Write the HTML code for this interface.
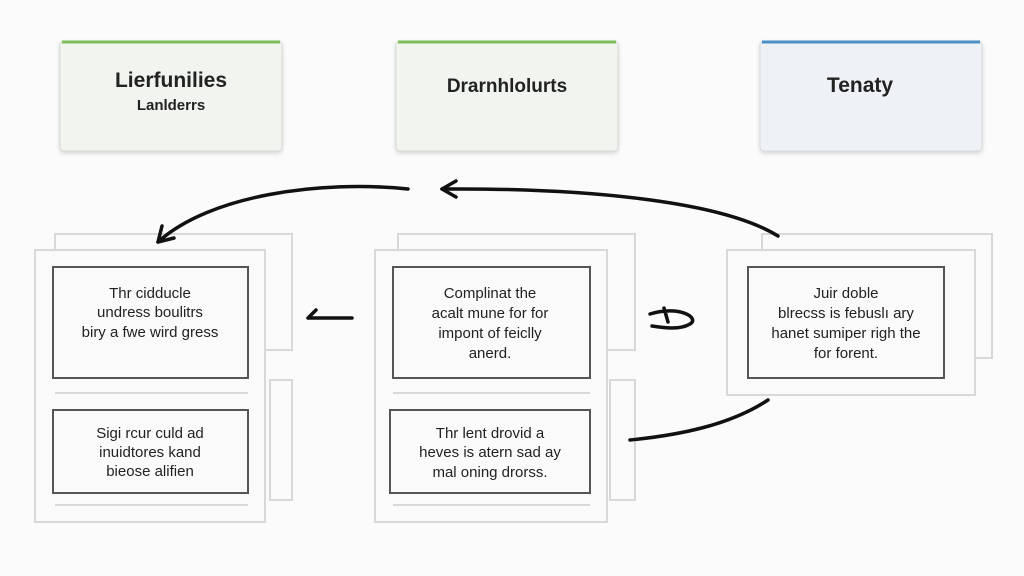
<!DOCTYPE html>
<html><head><style>
body{margin:0;background:#fbfbfb;}
svg{display:block;font-family:"Liberation Sans",sans-serif;}
</style></head><body>
<svg width="1024" height="576" viewBox="0 0 1024 576">
<rect width="1024" height="576" fill="#fbfbfb"/>
<defs><filter id="s"><feDropShadow dx="0" dy="2" stdDeviation="2" flood-opacity="0.15"/></filter></defs>
<g filter="url(#s)">
<rect x="60" y="41" width="222" height="110" rx="4" fill="#f1f4ef" stroke="#d6d9d4"/>
<rect x="396" y="41" width="222" height="110" rx="4" fill="#f1f4ef" stroke="#d6d9d4"/>
<rect x="760" y="41" width="222" height="110" rx="4" fill="#eef2f6" stroke="#d6d9dc"/>
</g>
<path d="M62 42 H280" stroke="#7cbf5a" stroke-width="3"/>
<path d="M398 42 H616" stroke="#7cbf5a" stroke-width="3"/>
<path d="M762 42 H980" stroke="#4a8fc8" stroke-width="3"/>
<text x="171" y="87" font-size="21" font-weight="bold" text-anchor="middle" fill="#222">Lierfunilies</text>
<text x="171" y="110" font-size="15" font-weight="bold" text-anchor="middle" fill="#222">Lanlderrs</text>
<text x="507" y="92" font-size="19" font-weight="bold" text-anchor="middle" fill="#222">Drarnhlolurts</text>
<text x="860" y="92" font-size="21" font-weight="bold" text-anchor="middle" fill="#222">Tenaty</text>
<g fill="#fafafa" stroke="#d8d8d8" stroke-width="2">
<rect x="55" y="234" width="237" height="116"/>
<rect x="270" y="380" width="22" height="120"/>
<rect x="35" y="250" width="230" height="272"/>
<rect x="398" y="234" width="237" height="116"/>
<rect x="610" y="380" width="25" height="120"/>
<rect x="375" y="250" width="232" height="272"/>
<rect x="762" y="234" width="230" height="124"/>
<rect x="727" y="250" width="248" height="145"/>
</g>
<g stroke="#d8d8d8" stroke-width="2"><path d="M55 393 H248 M55 505 H248 M393 393 H590 M393 505 H590"/></g>
<g fill="#fafafa" stroke="#555" stroke-width="2">
<rect x="53" y="267" width="195" height="111"/>
<rect x="53" y="410" width="195" height="83"/>
<rect x="393" y="267" width="197" height="111"/>
<rect x="390" y="410" width="200" height="83"/>
<rect x="748" y="267" width="196" height="111"/>
</g>
<g font-size="15" fill="#222" text-anchor="middle">
<text x="150" y="298">Thr cidducle</text><text x="150" y="317">undress boulitrs</text><text x="150" y="337">biry a fwe wird gress</text>
<text x="150" y="438">Sigi rcur culd ad</text><text x="150" y="457">inuidtores kand</text><text x="150" y="476">bieose alifien</text>
<text x="490" y="298">Complinat the</text><text x="490" y="318">acalt mune  for for</text><text x="490" y="338">impont of feiclly</text><text x="490" y="358">anerd.</text>
<text x="490" y="438">Thr lent drovid a</text><text x="490" y="457">heves is atern sad ay</text><text x="490" y="477">mal oning drorss.</text>
<text x="846" y="298">Juir doble</text><text x="846" y="318">blrecss is febuslı ary</text><text x="846" y="338">hanet sumiper righ the</text><text x="846" y="358">for forent.</text>
</g>
<g fill="none" stroke="#111" stroke-width="3.5" stroke-linecap="round">
<path d="M408 189 C320 180 210 195 158 242"/>
<path d="M158 242 L162 226 M158 242 L174 238"/>
<path d="M778 236 C720 200 580 188 442 189"/>
<path d="M442 189 L456 181 M442 189 L456 197"/>
<path d="M308 318 H352 M308 318 L316 310"/>
<path d="M650 314 C680 305 700 318 690 324 C680 330 665 328 652 326 M664 308 L668 322"/>
<path d="M768 400 C730 425 680 435 630 440"/>
</g>
</svg>
</body></html>
